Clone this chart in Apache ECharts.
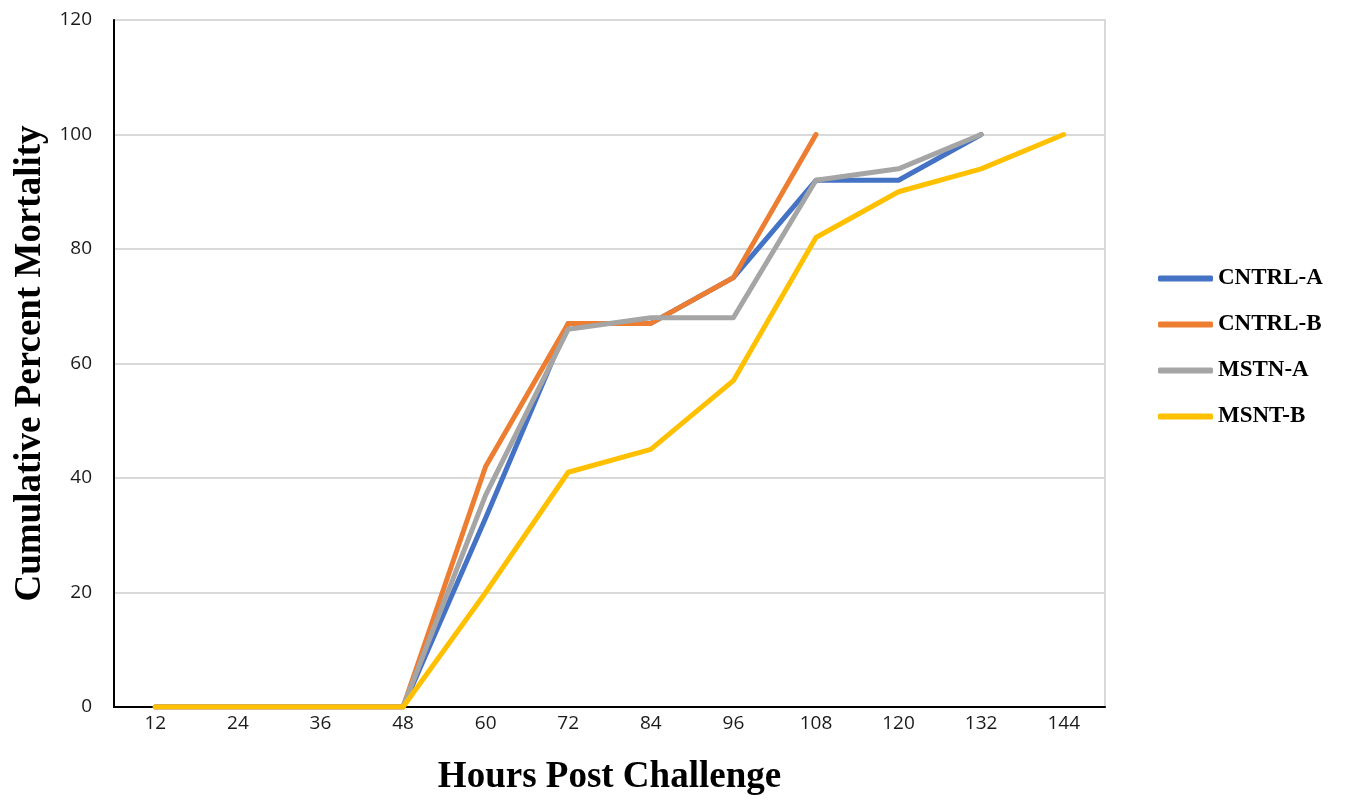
<!DOCTYPE html>
<html>
<head>
<meta charset="utf-8">
<title>Cumulative Percent Mortality</title>
<script src="https://cdn.jsdelivr.net/npm/echarts@6/dist/echarts.min.js"></script>
<style>
  html, body { margin: 0; padding: 0; background: #ffffff; }
  #chart { width: 1366px; height: 804px; }
</style>
</head>
<body>
<div id="chart"></div>
<script>
// Hours after challenge (category axis)
const hours = ['12', '24', '36', '48', '60', '72', '84', '96', '108', '120', '132', '144'];

// Cumulative percent mortality per group
const cntrlA = [0, 0, 0, 0, 33, 67, 67, 75, 92, 92, 100];
const cntrlB = [0, 0, 0, 0, 42, 67, 67, 75, 100];
const mstnA  = [0, 0, 0, 0, 37, 66, 68, 68, 92, 94, 100];
const msntB  = [0, 0, 0, 0, 20, 41, 45, 57, 82, 90, 94, 100];

const groupNames = ['CNTRL-A', 'CNTRL-B', 'MSTN-A', 'MSNT-B'];
const groupColors = ['#4472C4', '#ED7D31', '#A5A5A5', '#FFC000'];
const groupData = [cntrlA, cntrlB, mstnA, msntB];

const serif = '"Liberation Serif", "Times New Roman", serif';
const sans = '"Open Sans", "Liberation Sans", sans-serif';

const chart = echarts.init(document.getElementById('chart'), null, { renderer: 'canvas' });

chart.setOption({
  animation: false,
  backgroundColor: '#ffffff',
  grid: {
    left: 114, right: 261, top: 20, bottom: 97,
    show: true, borderColor: '#d9d9d9', borderWidth: 2, backgroundColor: 'transparent'
  },
  legend: {
    orient: 'vertical',
    left: 1153,
    top: 262,
    icon: 'roundRect',
    itemWidth: 55,
    itemHeight: 6,
    itemGap: 23,
    itemStyle: { borderWidth: 0 },
    textStyle: { fontFamily: serif, fontWeight: 'bold', fontSize: 23, color: '#000' },
    data: groupNames
  },
  xAxis: {
    type: 'category',
    data: hours,
    boundaryGap: true,
    name: 'Hours Post Challenge',
    nameLocation: 'middle',
    nameGap: 52,
    nameTextStyle: { fontFamily: serif, fontWeight: 'bold', fontSize: 37, color: '#000' },
    axisLine: { show: true, lineStyle: { color: '#000', width: 2 } },
    axisTick: { show: false },
    axisLabel: { margin: 7, fontFamily: sans, fontSize: 19, color: '#1a1a1a' },
    splitLine: { show: false }
  },
  yAxis: {
    type: 'value',
    min: 0, max: 120, interval: 20,
    name: 'Cumulative Percent Mortality',
    nameLocation: 'middle',
    nameGap: 64,
    nameTextStyle: { fontFamily: serif, fontWeight: 'bold', fontSize: 37, color: '#000' },
    axisLine: { show: true, lineStyle: { color: '#000', width: 2 } },
    axisTick: { show: false },
    axisLabel: { margin: 22, fontFamily: sans, fontSize: 19, color: '#1a1a1a' },
    splitLine: { show: true, lineStyle: { color: '#d9d9d9', width: 2 } }
  },
  series: groupNames.map((name, i) => ({
    name: name,
    type: 'line',
    data: groupData[i],
    smooth: false,
    symbol: 'none',
    color: groupColors[i],
    lineStyle: { width: 5, color: groupColors[i], cap: 'round', join: 'round' },
    z: 2 + i
  }))
});
</script>
</body>
</html>
